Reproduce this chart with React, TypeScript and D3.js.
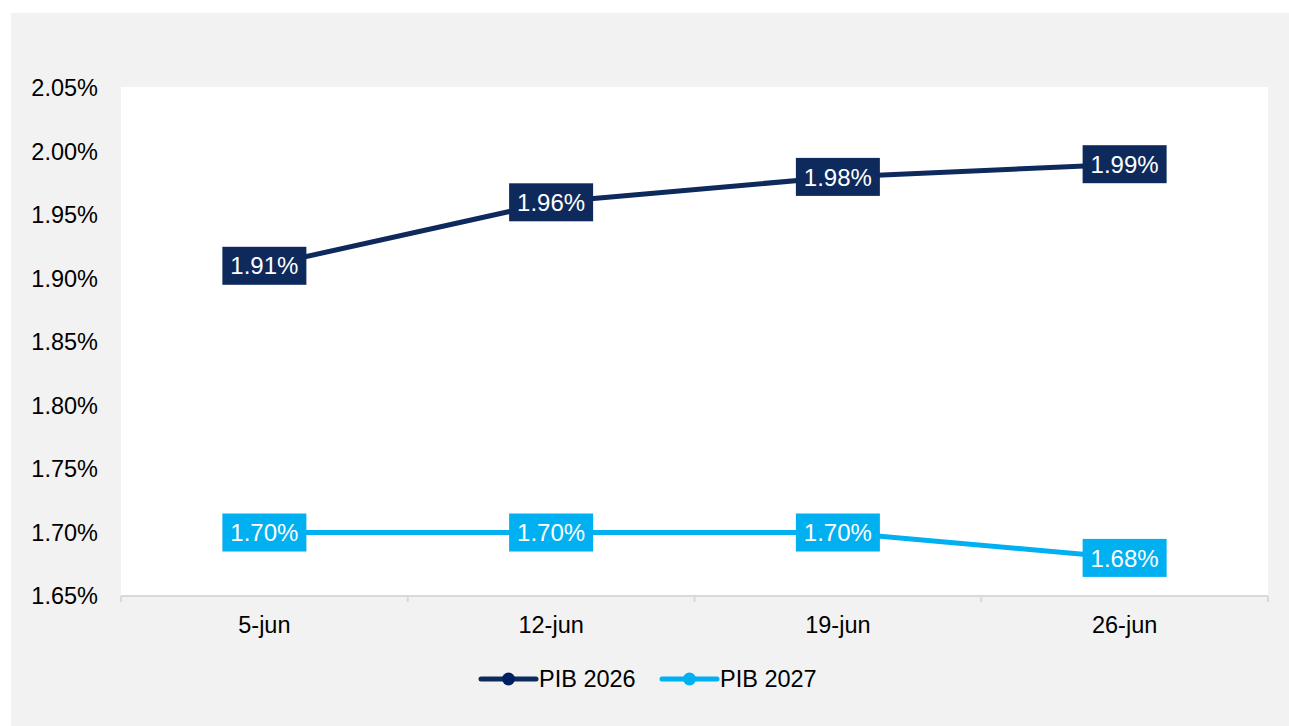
import * as d3 from "d3";

const categories = ["5-jun", "12-jun", "19-jun", "26-jun"];
const pib2026 = [1.91, 1.96, 1.98, 1.99];
const pib2027 = [1.7, 1.7, 1.7, 1.68];
const yTicks = [1.65, 1.7, 1.75, 1.8, 1.85, 1.9, 1.95, 2.0, 2.05];

const seriesList = [
  { name: "PIB 2026", values: pib2026, color: "#0e2a5c", marker: "#002060" },
  { name: "PIB 2027", values: pib2027, color: "#00b0f0", marker: "#00b0f0" },
];

export default function App() {
  const width = 1289;
  const height = 726;
  const plotLeft = 121;
  const plotRight = 1268;
  const plotTop = 88;
  const plotBottom = 596;
  const font = "Arial, 'Liberation Sans', sans-serif";

  const x = d3.scaleBand(categories, [plotLeft, plotRight]);
  const y = d3.scaleLinear([1.65, 2.05], [plotBottom, plotTop]);
  const line = d3.line<number>((_, i) => x(categories[i])! + x.bandwidth() / 2, (d) => y(d));
  const fmt = (v: number) => v.toFixed(2) + "%";
  const boundaries = [...categories.map((c) => x(c)!), plotRight];

  const legendX = [481, 662];

  return (
    <svg width={width} height={height} style={{ position: "absolute", left: 0, top: 0 }} fontFamily={font}>
      <rect x={0} y={0} width={width} height={height} fill="#ffffff" />
      <rect x={11} y={13} width={width - 11} height={height - 13} fill="#f2f2f2" />
      <rect x={plotLeft} y={plotTop - 1} width={plotRight - plotLeft} height={plotBottom - plotTop + 1} fill="#ffffff" />

      {/* y axis labels */}
      <g fontSize={23.5} fill="#000" textAnchor="end">
        {yTicks.map((t) => (
          <text key={t} x={98} y={y(t)} dy="0.36em">{fmt(t)}</text>
        ))}
      </g>

      {/* x axis */}
      <line x1={plotLeft} x2={plotRight} y1={plotBottom} y2={plotBottom} stroke="#d9d9d9" strokeWidth={2} />
      {boundaries.map((b, i) => (
        <line key={i} x1={b} x2={b} y1={plotBottom} y2={plotBottom + 6} stroke="#d9d9d9" strokeWidth={2} />
      ))}
      <g fontSize={23.5} fill="#000" textAnchor="middle">
        {categories.map((c) => (
          <text key={c} x={x(c)! + x.bandwidth() / 2} y={625} dy="0.36em">{c}</text>
        ))}
      </g>

      {/* lines */}
      {seriesList.map((s) => (
        <path key={s.name} d={line(s.values)!} fill="none" stroke={s.color} strokeWidth={5} />
      ))}

      {/* data labels */}
      {seriesList.map((s) => (
        <g key={s.name + "-labels"}>
          {s.values.map((v, i) => {
            const cx = x(categories[i])! + x.bandwidth() / 2;
            const cy = y(v);
            return (
              <g key={i}>
                <rect x={cx - 42} y={cy - 19} width={84} height={38} fill={s.color} />
                <text x={cx} y={cy} dy="0.36em" textAnchor="middle" fontSize={24} fill="#ffffff">{fmt(v)}</text>
              </g>
            );
          })}
        </g>
      ))}

      {/* legend */}
      {seriesList.map((s, i) => (
        <g key={s.name + "-legend"} transform={`translate(${legendX[i]},679)`}>
          <line x1={0} x2={55} y1={0} y2={0} stroke={s.color} strokeWidth={5} strokeLinecap="round" />
          <circle cx={27.5} cy={0} r={6.5} fill={s.marker} />
          <text x={58} y={0} dy="0.36em" fontSize={23.5} fill="#000">{s.name}</text>
        </g>
      ))}
    </svg>
  );
}
